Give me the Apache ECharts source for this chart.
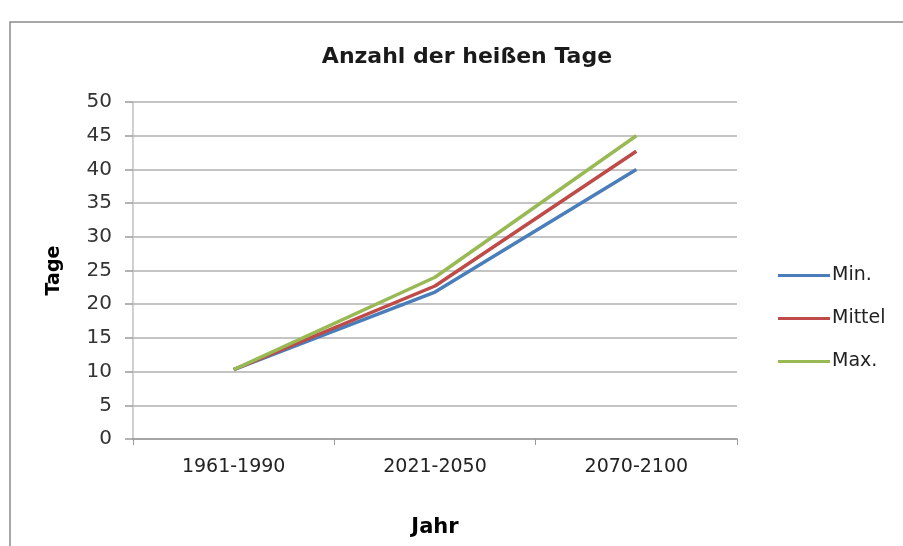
<!DOCTYPE html>
<html><head><meta charset="utf-8">
<script src="https://cdn.jsdelivr.net/npm/echarts@6/dist/echarts.min.js"></script>
<style>html,body{margin:0;padding:0;background:#fff}#c{width:903px;height:546px}</style>
</head><body><div id="c"></div>
<script>
const categories = ['1961-1990', '2021-2050', '2070-2100'];
const minValues = [10.3, 21.8, 40];
const mittelValues = [10.3, 22.7, 42.7];
const maxValues = [10.3, 24, 45];
const seriesNames = ['Min.', 'Mittel', 'Max.'];
const colors = ['#4A7EBB', '#BE4B48', '#98B954'];
const font = '"DejaVu Sans", sans-serif';

const chart = echarts.init(document.getElementById('c'));
chart.setOption({
  animation: false,
  graphic: [{
    type: 'rect', shape: {x: 10, y: 22, width: 900, height: 540},
    style: {fill: 'none', stroke: '#8a8a8a', lineWidth: 1.5}, silent: true, z: -1
  }],
  title: {
    text: 'Anzahl der heißen Tage', left: 462, top: 41, textAlign: 'center',
    textStyle: {fontFamily: font, fontSize: 22, fontWeight: 'bold', color: '#1a1a1a'}
  },
  legend: {
    orient: 'vertical', left: 773, top: 261, itemGap: 24, itemWidth: 52, itemHeight: 14,
    icon: 'path://M0,0 L52,0 L52,3 L0,3 Z',
    textStyle: {fontFamily: font, fontSize: 19, color: '#222', padding: [0, 0, 0, -3]},
    data: seriesNames
  },
  grid: {left: 133, right: 166, top: 102, bottom: 107, containLabel: false},
  xAxis: {
    type: 'category', data: categories, boundaryGap: true,
    name: 'Jahr', nameLocation: 'middle', nameGap: 78,
    nameTextStyle: {fontFamily: font, fontSize: 21, fontWeight: 'bold', color: '#000'},
    axisLine: {lineStyle: {color: '#9a9a9a', width: 1.5}},
    axisTick: {show: true, length: 6, lineStyle: {color: '#9a9a9a'}},
    axisLabel: {fontFamily: font, fontSize: 19, color: '#222', margin: 19}
  },
  yAxis: {
    type: 'value', min: 0, max: 50, interval: 5,
    name: 'Tage', nameLocation: 'middle', nameGap: 69, nameRotate: 90,
    nameTextStyle: {fontFamily: font, fontSize: 19, fontWeight: 'bold', color: '#000'},
    axisLine: {show: true, lineStyle: {color: '#c0c0c0', width: 1.5}},
    axisTick: {show: true, length: 8, lineStyle: {color: '#9a9a9a', width: 1.5}},
    axisLabel: {fontFamily: font, fontSize: 20, color: '#333', margin: 21},
    splitLine: {lineStyle: {color: '#b0b0b0', width: 1.5}}
  },
  series: [
    {name: seriesNames[0], type: 'line', data: minValues, symbol: 'none', lineStyle: {width: 3.5, color: colors[0]}, itemStyle: {color: colors[0]}},
    {name: seriesNames[1], type: 'line', data: mittelValues, symbol: 'none', lineStyle: {width: 3.5, color: colors[1]}, itemStyle: {color: colors[1]}},
    {name: seriesNames[2], type: 'line', data: maxValues, symbol: 'none', lineStyle: {width: 3.5, color: colors[2]}, itemStyle: {color: colors[2]}}
  ]
});
</script></body></html>
